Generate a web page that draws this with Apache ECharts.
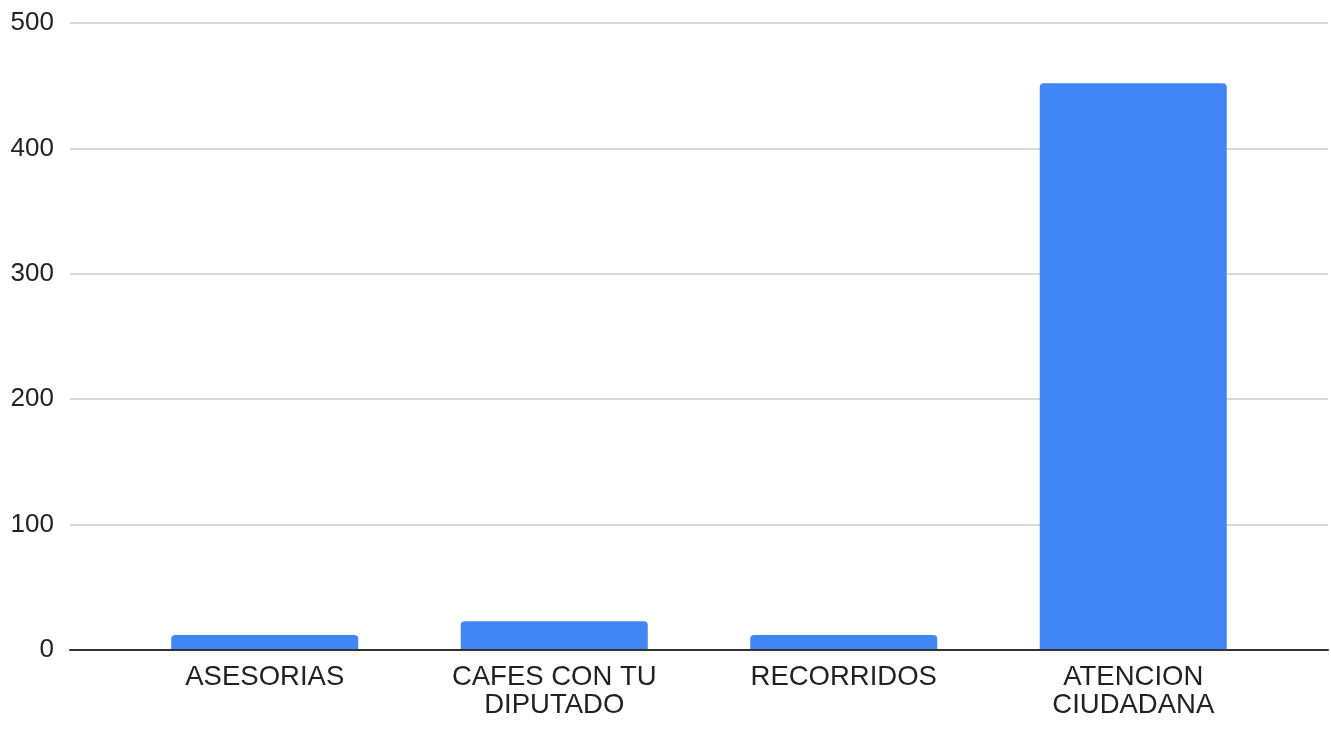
<!DOCTYPE html>
<html>
<head>
<meta charset="utf-8">
<script src="https://cdn.jsdelivr.net/npm/echarts@6/dist/echarts.min.js"></script>
<style>
html,body{margin:0;padding:0;background:#fff;}
#c{width:1331px;height:729px;}
</style>
</head>
<body>
<div id="c"></div>
<script>
const categories = ['ASESORIAS', 'CAFES CON TU\nDIPUTADO', 'RECORRIDOS', 'ATENCION\nCIUDADANA'];
const values = [12, 23, 12, 452];
const yMin = 0, yMax = 500, yStep = 100;

const chart = echarts.init(document.getElementById('c'));
const font = 'Arimo, "Liberation Sans", Arial, sans-serif';
chart.setOption({
  backgroundColor: '#fff',
  animation: false,
  grid: [
    {left: 70, right: 3, top: 23, bottom: 79},
    {left: 120, right: 53, top: 23, bottom: 79}
  ],
  xAxis: [
    {gridIndex: 0, type: 'category', data: [''], axisTick: {show: false}, axisLabel: {show: false},
     axisLine: {lineStyle: {color: '#333', width: 2}}, z: 10},
    {gridIndex: 1, type: 'category', data: categories, axisTick: {show: false},
     axisLine: {show: false},
     axisLabel: {color: '#222', fontSize: 27.5, fontFamily: font, lineHeight: 28, margin: 13, interval: 0}}
  ],
  yAxis: [
    {gridIndex: 0, type: 'value', min: yMin, max: yMax, interval: yStep,
     axisLine: {show: false}, axisTick: {show: false},
     axisLabel: {color: '#222', fontSize: 26, fontFamily: font, margin: 16},
     splitLine: {lineStyle: {color: '#cccccc', width: 1.5}}},
    {gridIndex: 1, type: 'value', min: yMin, max: yMax, interval: yStep, show: false,
     splitLine: {show: false}}
  ],
  series: [{
    type: 'bar', xAxisIndex: 1, yAxisIndex: 1, data: values,
    barWidth: 187,
    itemStyle: {color: '#4285F4', borderRadius: [4, 4, 0, 0]}
  }]
});
</script>
</body>
</html>
